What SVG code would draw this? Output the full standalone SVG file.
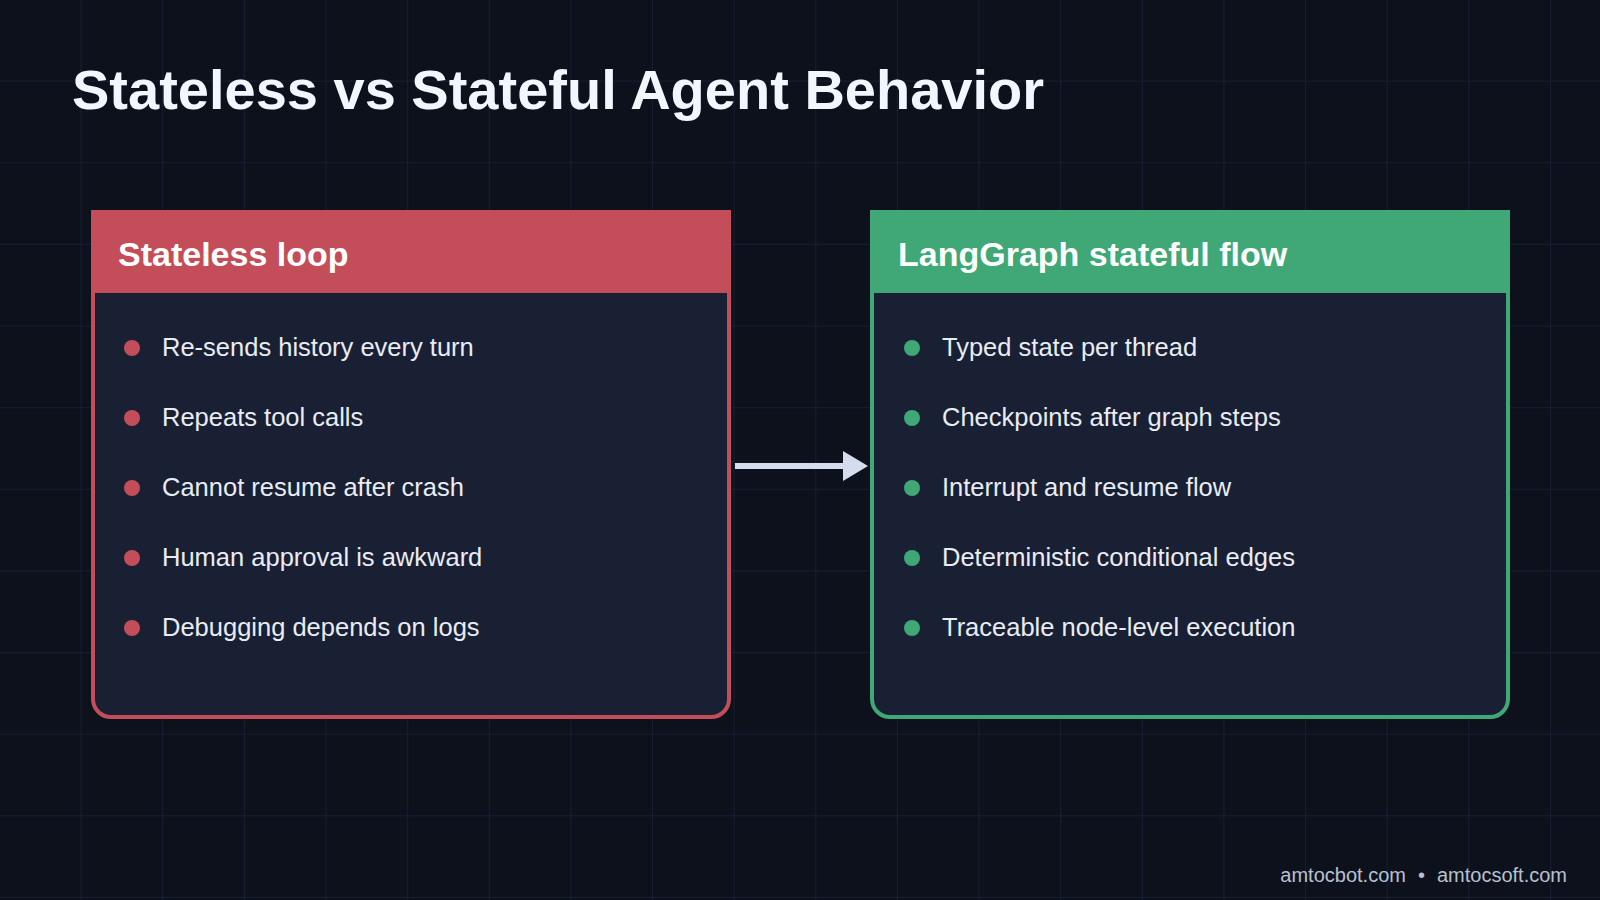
<svg xmlns="http://www.w3.org/2000/svg" width="1600" height="900" viewBox="0 0 1600 900">
<defs>
<pattern id="grid" width="81.63" height="81.63" patternUnits="userSpaceOnUse">
<path d="M81.63 0V81.63M0 81.63H81.63" fill="none" stroke="#18223c" stroke-width="1.5"/>
</pattern>
</defs>
<style>
.t{font-family:"Liberation Sans",Arial,sans-serif}
.h{font-size:34px;font-weight:bold;fill:#ffffff}
.b{font-size:25.5px;fill:#e8ecf4}
</style>
<rect width="1600" height="900" fill="#0d111b"/>
<rect x="-0.5" y="-0.5" width="1601" height="901" fill="url(#grid)"/>
<text class="t" x="72" y="109" font-size="56" font-weight="bold" fill="#f2f6ff">Stateless vs Stateful Agent Behavior</text>
<g id="stateless">
<path d="M93 212H729V699a18 18 0 0 1-18 18H111a18 18 0 0 1-18-18Z" fill="#1a2033" stroke="#c44d5a" stroke-width="4"/>
<rect x="91" y="210" width="640" height="83" fill="#c44d5a"/>
<text class="t h" x="118" y="266">Stateless loop</text>
<g fill="#c44d5a"><circle cx="132" cy="348" r="8"/><circle cx="132" cy="418" r="8"/><circle cx="132" cy="488" r="8"/><circle cx="132" cy="558" r="8"/><circle cx="132" cy="628" r="8"/></g>
<text class="t b" x="162" y="356">Re-sends history every turn</text>
<text class="t b" x="162" y="426">Repeats tool calls</text>
<text class="t b" x="162" y="496">Cannot resume after crash</text>
<text class="t b" x="162" y="566">Human approval is awkward</text>
<text class="t b" x="162" y="636">Debugging depends on logs</text>
</g>
<g id="stateful">
<path d="M872 212H1508V699a18 18 0 0 1-18 18H890a18 18 0 0 1-18-18Z" fill="#1a2033" stroke="#3fa876" stroke-width="4"/>
<rect x="870" y="210" width="640" height="83" fill="#3fa876"/>
<text class="t h" x="898" y="266">LangGraph stateful flow</text>
<g fill="#3fa876"><circle cx="912" cy="348" r="8"/><circle cx="912" cy="418" r="8"/><circle cx="912" cy="488" r="8"/><circle cx="912" cy="558" r="8"/><circle cx="912" cy="628" r="8"/></g>
<text class="t b" x="942" y="356">Typed state per thread</text>
<text class="t b" x="942" y="426">Checkpoints after graph steps</text>
<text class="t b" x="942" y="496">Interrupt and resume flow</text>
<text class="t b" x="942" y="566">Deterministic conditional edges</text>
<text class="t b" x="942" y="636">Traceable node-level execution</text>
</g>
<g id="connectors">
<line x1="735" y1="466" x2="845" y2="466" stroke="#d4dced" stroke-width="6"/>
<polygon points="843,451 868,466 843,481" fill="#d4dced"/>
</g>
<text class="t" x="1567" y="882" font-size="20" fill="#b8c0d0" text-anchor="end">amtocbot.com<tspan dx="12">•</tspan><tspan dx="12">amtocsoft.com</tspan></text>
</svg>
